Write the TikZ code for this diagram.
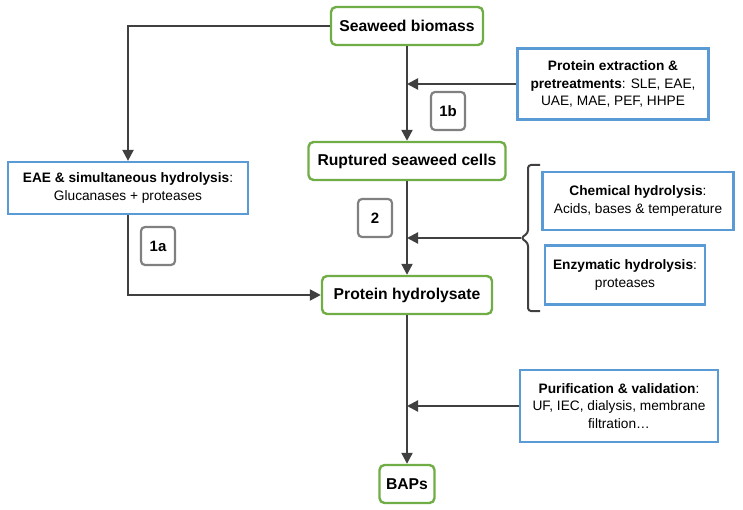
\documentclass[tikz,border=0pt]{standalone}
\usepackage{fontspec}
\setmainfont{Liberation Sans}
\usetikzlibrary{arrows.meta}
\definecolor{stepgreen}{RGB}{112,173,71}
\definecolor{infoblue}{RGB}{91,155,213}
\definecolor{taggray}{RGB}{128,128,128}
\definecolor{flowgray}{RGB}{64,64,64}

\begin{document}
\begin{tikzpicture}[x=1pt, y=-1pt,
	proc/.style={draw=stepgreen, line width=2.4pt, rounded corners=5pt, minimum height=38pt, inner sep=2pt, font=\fontsize{15.7}{18}\selectfont\bfseries},
	info/.style={draw=infoblue, line width=2.2pt, align=center, inner sep=2pt, font=\fontsize{13.7}{17.5}\selectfont},
	tag/.style={draw=taggray, line width=2.2pt, rounded corners=4pt, minimum width=34pt, minimum height=38pt, inner sep=1pt, font=\fontsize{15}{18}\selectfont\bfseries},
	flow/.style={draw=flowgray, line width=2.2pt, -{Triangle[length=11pt,width=11pt]}}]
	\useasboundingbox (0,0) rectangle (743,510);
	% main steps
	\node[proc, minimum width=152pt] (biomass) at (407,26) {Seaweed biomass};
	\node[proc, minimum width=197pt] (ruptured) at (407,161) {Ruptured seaweed cells};
	\node[proc, minimum width=170pt] (hydrolysate) at (407,295) {Protein hydrolysate};
	\node[proc, minimum width=55pt] (baps) at (407,484) {BAPs};
	% treatments
	\node[info, minimum width=191pt, minimum height=71pt] (extraction) at (613,84) {\textbf{Protein extraction \&}\\\textbf{pretreatments}: SLE, EAE,\\UAE, MAE, PEF, HHPE};
	\node[info, minimum width=240pt, minimum height=52pt] (eae) at (128,188) {\textbf{EAE \& simultaneous hydrolysis}:\\Glucanases + proteases};
	\node[info, minimum width=191pt, minimum height=58pt] (chemical) at (638,201) {\textbf{Chemical hydrolysis}:\\Acids, bases \& temperature};
	\node[info, minimum width=160pt, minimum height=59pt] (enzymatic) at (625,275) {\textbf{Enzymatic hydrolysis}:\\proteases};
	\node[info, minimum width=198pt, minimum height=72pt] (purification) at (619,406) {\textbf{Purification \& validation}:\\UF, IEC, dialysis, membrane\\filtration…};
	% routes
	\node[tag] (n1b) at (448,111) {1b};
	\node[tag] (n1a) at (158,246) {1a};
	\node[tag] (n2) at (375,218) {2};
	\coordinate (cusp) at (521,238);
	\draw[flowgray, line width=2pt, rounded corners=3pt] (540,165) -- (528,165) -- (528,233) -- (cusp) -- (528,243) -- (528,311) -- (540,311);
	\draw[flow] (biomass) -- (ruptured);
	\draw[flow] (ruptured) -- (hydrolysate);
	\draw[flow] (hydrolysate) -- (baps);
	\draw[flow] (biomass.west) -| (eae.north);
	\draw[flow] (eae.south) |- (hydrolysate.west);
	\draw[flow] (extraction.west) -- (extraction.west -| biomass.south);
	\draw[flow] (cusp) -- (cusp -| ruptured.south);
	\draw[flow] (purification.west) -- (purification.west -| baps.north);
\end{tikzpicture}
\end{document}
